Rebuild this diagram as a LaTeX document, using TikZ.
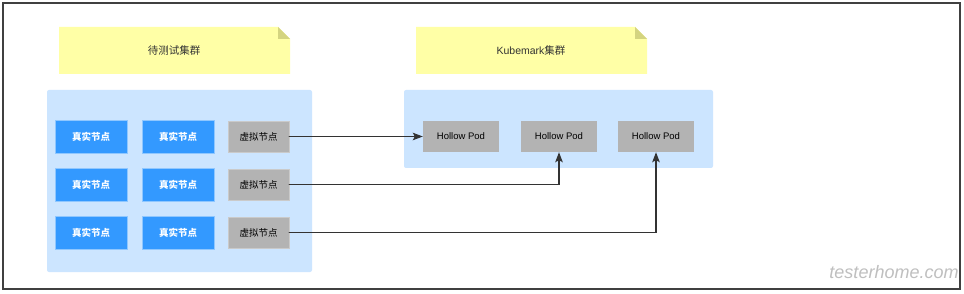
\documentclass[tikz,border=0pt]{standalone}
\usepackage{fontspec}
\setmainfont{Liberation Sans}
\newfontfamily\cjk{Noto Sans CJK SC}
\usepackage{tikz}
\usetikzlibrary{arrows.meta}
\usepackage{xcolor}

\definecolor{notefill}{HTML}{FFFFA6}
\definecolor{notefold}{HTML}{D4D480}
\definecolor{panel}{HTML}{CCE5FF}
\definecolor{realnode}{HTML}{3399FF}
\definecolor{fakenode}{HTML}{B3B3B3}
\definecolor{wire}{HTML}{333333}

\begin{document}
\begin{tikzpicture}[x=1pt,y=-1pt,>={Stealth[length=10pt,width=7.5pt,inset=2pt]},line cap=round,
  realbox/.style={fill=realnode,draw=realnode!55!white,line width=0.8pt,text=white,
    font=\cjk\bfseries\fontsize{9.5}{11}\selectfont,minimum width=72pt,minimum height=33pt,inner sep=0pt},
  fakebox/.style={fill=fakenode,draw=fakenode!70!white,line width=0.6pt,text=black,
    font=\cjk\fontsize{9.5}{11}\selectfont,minimum width=61pt,minimum height=31pt,inner sep=0pt},
  podbox/.style={fill=fakenode,text=black,font=\fontsize{9.5}{11}\selectfont,
    minimum width=76pt,minimum height=31pt,inner sep=0pt},
  notetext/.style={text=black!80,font=\fontsize{10.5}{12}\selectfont},
  wire/.style={draw=wire,line width=1.4pt}]
\useasboundingbox (0,0) rectangle (964,294);
\fill[white] (0,0) rectangle (964,294);
\draw[black!75,line width=1.2pt] (3,3) rectangle (960,289);
% notes
\fill[notefill] (59,27) -- (278,27) -- (290,39) -- (290,74) -- (59,74) -- cycle;
\fill[notefold] (278,27) -- (290,39) -- (278,39) -- cycle;
\node[notetext] (srctitle) at (174,51) {\cjk 待测试集群};
\fill[notefill] (416,27) -- (635,27) -- (647,39) -- (647,74) -- (416,74) -- cycle;
\fill[notefold] (635,27) -- (647,39) -- (635,39) -- cycle;
\node[notetext] (kmtitle) at (531,51) {Kubemark{\cjk 集群}};
% clusters
\fill[panel,rounded corners=2pt] (47,90) rectangle (312,272);
\fill[panel,rounded corners=2pt] (404,90) rectangle (713,168);
% real nodes
\node[realbox] (r11) at (91,136.5) {真实节点};
\node[realbox] (r12) at (178,136.5) {真实节点};
\node[realbox] (r21) at (91,184.5) {真实节点};
\node[realbox] (r22) at (178,184.5) {真实节点};
\node[realbox] (r31) at (91,232.5) {真实节点};
\node[realbox] (r32) at (178,232.5) {真实节点};
% virtual nodes
\node[fakebox] (v1) at (258.5,136.5) {虚拟节点};
\node[fakebox] (v2) at (258.5,184.5) {虚拟节点};
\node[fakebox] (v3) at (258.5,232.5) {虚拟节点};
% hollow pods
\node[podbox] (p1) at (461,136.5) {Hollow Pod};
\node[podbox] (p2) at (559,136.5) {Hollow Pod};
\node[podbox] (p3) at (656,136.5) {Hollow Pod};
% links
\draw[wire,->] (v1.east) -- (p1.west);
\draw[wire,->] (v2.east) -| (p2.south);
\draw[wire,->] (v3.east) -| (p3.south);
\node[text=black!25,font=\itshape\fontsize{18}{18}\selectfont] (mark) at (894,272) {testerhome.com};
\end{tikzpicture}
\end{document}
